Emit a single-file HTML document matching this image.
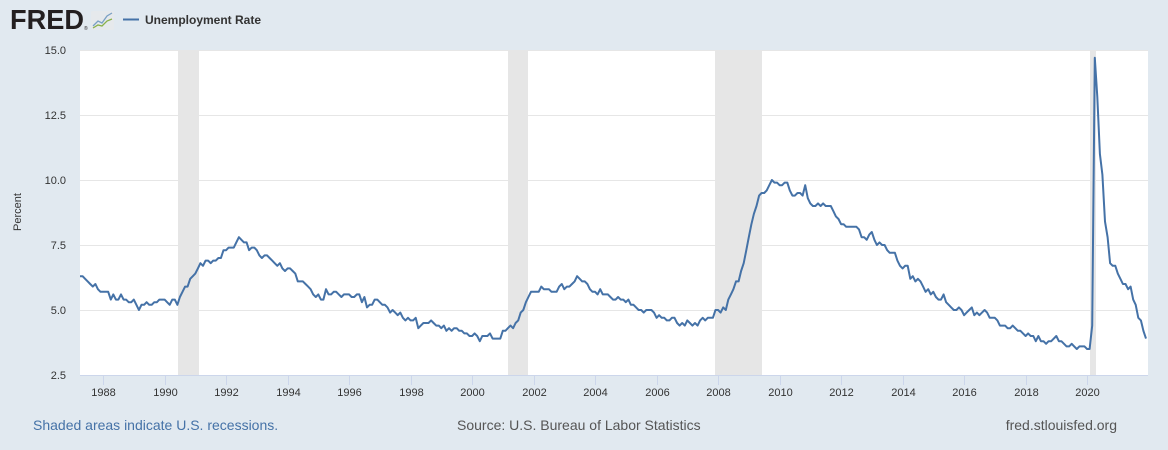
<!DOCTYPE html>
<html><head><meta charset="utf-8"><style>
body{margin:0;width:1168px;height:450px;background:#e1e9f0;overflow:hidden;font-family:"Liberation Sans",sans-serif}
svg{position:absolute;left:0;top:0}
</style></head><body>
<svg id="s" width="1168" height="450" xmlns="http://www.w3.org/2000/svg">
<text x="10" y="29" font-size="28" font-weight="bold" fill="#231f20" textLength="74" lengthAdjust="spacingAndGlyphs">FRED</text>
<text x="84" y="30" font-size="5" fill="#231f20">®</text>
<rect x="91" y="11" width="23" height="19" rx="2" fill="#e6e9ec"/>
<polyline points="93,26 98,21 102,23 107,16 112,13" fill="none" stroke="#7aa0c4" stroke-width="1.3"/>
<polyline points="93,28 98,25 102,26 107,21 112,19" fill="none" stroke="#8ab14a" stroke-width="1.3"/>
<line x1="123" y1="19.5" x2="139" y2="19.5" stroke="#4572a7" stroke-width="2"/>
<text x="145" y="24" font-size="12" font-weight="bold" fill="#333">Unemployment Rate</text>
<rect x="80" y="50" width="1068" height="325" fill="#fff"/>
<g id="rec" fill="#e6e6e6"></g>
<g id="grid" stroke="#e6e6e6" stroke-width="1"></g>
<line x1="80" y1="375.5" x2="1148" y2="375.5" stroke="#ccd6eb"/>
<g id="ticks" stroke="#ccd6eb"></g>
<g id="lab" font-size="11" fill="#333"></g>
<text transform="translate(21,212) rotate(-90)" font-size="11" fill="#333" text-anchor="middle">Percent</text>
<path id="ln" fill="none" stroke="#4572a7" stroke-width="2" stroke-linejoin="round"/>
<text x="33" y="430" font-size="14" fill="#4572a7">Shaded areas indicate U.S. recessions.</text>
<text x="457" y="430" font-size="14" fill="#555">Source: U.S. Bureau of Labor Statistics</text>
<text x="1117" y="430" font-size="14" fill="#555" text-anchor="end">fred.stlouisfed.org</text>
</svg>
<script>
var d={1987:[0,0,0,6.3,6.3,6.2,6.1,6.0,5.9,6.0,5.8,5.7],
1988:[5.7,5.7,5.7,5.4,5.6,5.4,5.4,5.6,5.4,5.4,5.3,5.3],
1989:[5.4,5.2,5.0,5.2,5.2,5.3,5.2,5.2,5.3,5.3,5.4,5.4],
1990:[5.4,5.3,5.2,5.4,5.4,5.2,5.5,5.7,5.9,5.9,6.2,6.3],
1991:[6.4,6.6,6.8,6.7,6.9,6.9,6.8,6.9,6.9,7.0,7.0,7.3],
1992:[7.3,7.4,7.4,7.4,7.6,7.8,7.7,7.6,7.6,7.3,7.4,7.4],
1993:[7.3,7.1,7.0,7.1,7.1,7.0,6.9,6.8,6.7,6.8,6.6,6.5],
1994:[6.6,6.6,6.5,6.4,6.1,6.1,6.1,6.0,5.9,5.8,5.6,5.5],
1995:[5.6,5.4,5.4,5.8,5.6,5.6,5.7,5.7,5.6,5.5,5.6,5.6],
1996:[5.6,5.5,5.5,5.6,5.6,5.3,5.5,5.1,5.2,5.2,5.4,5.4],
1997:[5.3,5.2,5.2,5.1,4.9,5.0,4.9,4.8,4.9,4.7,4.6,4.7],
1998:[4.6,4.6,4.7,4.3,4.4,4.5,4.5,4.5,4.6,4.5,4.4,4.4],
1999:[4.3,4.4,4.2,4.3,4.2,4.3,4.3,4.2,4.2,4.1,4.1,4.0],
2000:[4.0,4.1,4.0,3.8,4.0,4.0,4.0,4.1,3.9,3.9,3.9,3.9],
2001:[4.2,4.2,4.3,4.4,4.3,4.5,4.6,4.9,5.0,5.3,5.5,5.7],
2002:[5.7,5.7,5.7,5.9,5.8,5.8,5.8,5.7,5.7,5.7,5.9,6.0],
2003:[5.8,5.9,5.9,6.0,6.1,6.3,6.2,6.1,6.1,6.0,5.8,5.7],
2004:[5.7,5.6,5.8,5.6,5.6,5.6,5.5,5.4,5.4,5.5,5.4,5.4],
2005:[5.3,5.4,5.2,5.2,5.1,5.0,5.0,4.9,5.0,5.0,5.0,4.9],
2006:[4.7,4.8,4.7,4.7,4.6,4.6,4.7,4.7,4.5,4.4,4.5,4.4],
2007:[4.6,4.5,4.4,4.5,4.4,4.6,4.7,4.6,4.7,4.7,4.7,5.0],
2008:[5.0,4.9,5.1,5.0,5.4,5.6,5.8,6.1,6.1,6.5,6.8,7.3],
2009:[7.8,8.3,8.7,9.0,9.4,9.5,9.5,9.6,9.8,10.0,9.9,9.9],
2010:[9.8,9.8,9.9,9.9,9.6,9.4,9.4,9.5,9.5,9.4,9.8,9.3],
2011:[9.1,9.0,9.0,9.1,9.0,9.1,9.0,9.0,9.0,8.8,8.6,8.5],
2012:[8.3,8.3,8.2,8.2,8.2,8.2,8.2,8.1,7.8,7.8,7.7,7.9],
2013:[8.0,7.7,7.5,7.6,7.5,7.5,7.3,7.2,7.2,7.2,6.9,6.7],
2014:[6.6,6.7,6.7,6.2,6.3,6.1,6.2,6.1,5.9,5.7,5.8,5.6],
2015:[5.7,5.5,5.4,5.4,5.6,5.3,5.2,5.1,5.0,5.0,5.1,5.0],
2016:[4.8,4.9,5.0,5.1,4.8,4.9,4.8,4.9,5.0,4.9,4.7,4.7],
2017:[4.7,4.6,4.4,4.4,4.4,4.3,4.3,4.4,4.3,4.2,4.2,4.1],
2018:[4.0,4.1,4.0,4.0,3.8,4.0,3.8,3.8,3.7,3.8,3.8,3.9],
2019:[4.0,3.8,3.8,3.7,3.6,3.6,3.7,3.6,3.5,3.6,3.6,3.6],
2020:[3.5,3.5,4.4,14.7,13.2,11.0,10.2,8.4,7.8,6.8,6.7,6.7],
2021:[6.4,6.2,6.0,6.0,5.8,5.9,5.4,5.2,4.7,4.6,4.2,3.9]};
function X(t){return 80+(t-1987.25)*30.75}
function Y(v){return 50+(15-v)*26}
var p="",NS="http://www.w3.org/2000/svg";
for(var y=1987;y<=2021;y++)for(var m=0;m<12;m++){var v=d[y][m];if(!v)continue;p+=(p?"L":"M")+X(y+m/12).toFixed(1)+","+Y(v).toFixed(1)}
document.getElementById("ln").setAttribute("d",p);
function el(g,t,a,txt){var e=document.createElementNS(NS,t);for(var k in a)e.setAttribute(k,a[k]);if(txt)e.textContent=txt;document.getElementById(g).appendChild(e)}
[[178,199],[508,528],[715,762],[1090,1096]].forEach(function(r){el("rec","rect",{x:r[0],y:50,width:r[1]-r[0],height:325})});
[5,7.5,10,12.5,15].forEach(function(v){el("grid","line",{x1:80,x2:1148,y1:Y(v)+.5,y2:Y(v)+.5})});
[2.5,5,7.5,10,12.5,15].forEach(function(v){el("lab","text",{x:66,y:Y(v)+4,"text-anchor":"end"},v.toFixed(1))});
for(var yr=1988;yr<=2020;yr+=2){var x=Math.round(X(yr))+.5;el("ticks","line",{x1:x,x2:x,y1:375,y2:385});el("lab","text",{x:x,y:396,"text-anchor":"middle"},""+yr)}
</script>
</body></html>
